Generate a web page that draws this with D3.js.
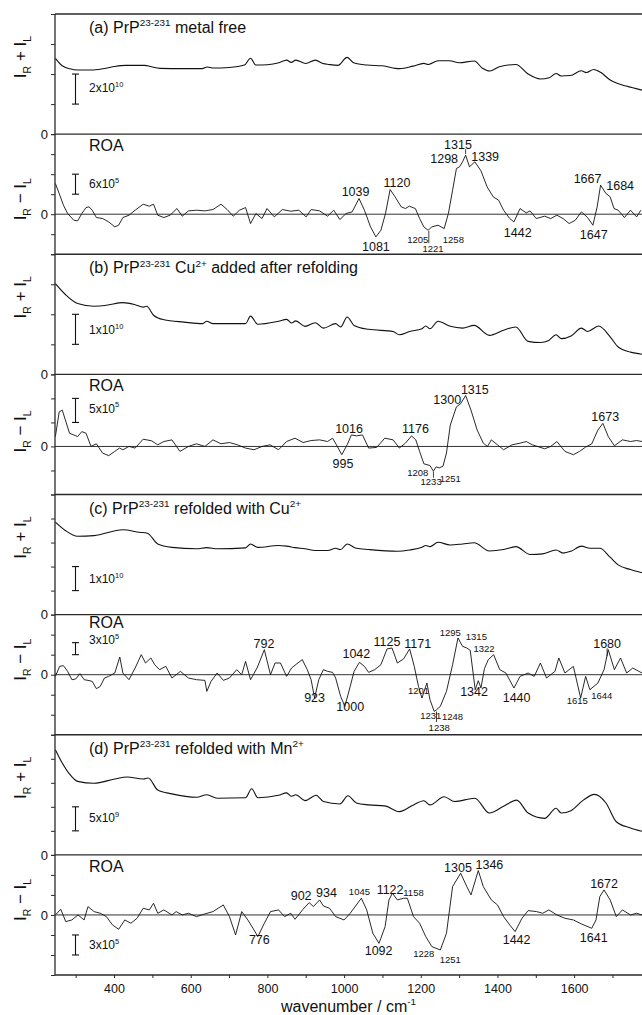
<!DOCTYPE html>
<html>
<head>
<meta charset="utf-8">
<script src="https://cdn.jsdelivr.net/npm/d3@7"></script>
<style>
  body { margin: 0; background: #fff; }
  svg { display: block; font-family: "Liberation Sans", Arial, sans-serif; }
  text { white-space: pre; }
</style>
</head>
<body>
<div id="chart"></div>
<script>
// wavenumber range shown (cm-1) and x ticks
const wnExtent = [246, 1777];
const xTicks = [300, 400, 500, 600, 700, 800, 900, 1000, 1100, 1200, 1300, 1400, 1500, 1600, 1700];
const xTickLabels = [400, 600, 800, 1000, 1200, 1400, 1600];

// Raman spectra, I_R + I_L  [wavenumber, value x1e10]
const ramanA = [[247,5.05],[265,4.55],[285,4.35],[305,4.27],[340,4.27],[370,4.35],[400,4.5],[430,4.58],[480,4.58],[495,4.5],[520,4.38],[580,4.36],[630,4.36],[643,4.47],[660,4.4],[700,4.44],[740,4.6],[756,5.05],[770,4.6],[800,4.62],[830,4.75],[850,4.93],[862,4.78],[874,4.93],[900,4.7],[925,4.93],[945,4.7],[960,4.64],[984,4.58],[1008,5.11],[1025,4.75],[1060,4.6],[1100,4.55],[1145,4.36],[1180,4.53],[1208,4.71],[1220,4.64],[1245,4.89],[1275,4.89],[1300,4.75],[1340,4.87],[1360,4.4],[1380,4.2],[1405,4.49],[1448,4.64],[1480,4.0],[1512,3.67],[1535,3.75],[1553,4.04],[1566,3.87],[1590,3.9],[1619,4.22],[1632,4.1],[1651,4.3],[1670,4.1],[1694,3.6],[1736,3.2],[1777,2.93]];
const ramanB = [[247,3.02],[273,2.66],[305,2.36],[348,2.27],[380,2.3],[423,2.39],[455,2.32],[476,2.24],[485,2.27],[503,1.97],[530,1.82],[583,1.74],[631,1.69],[642,1.77],[658,1.69],[743,1.69],[756,1.94],[775,1.67],[829,1.77],[850,1.83],[863,1.71],[874,1.78],[898,1.6],[925,1.72],[946,1.54],[978,1.69],[991,1.58],[1008,1.91],[1026,1.63],[1064,1.5],[1128,1.43],[1144,1.32],[1171,1.43],[1203,1.52],[1213,1.61],[1224,1.52],[1245,1.77],[1277,1.6],[1309,1.54],[1339,1.63],[1379,1.3],[1416,1.47],[1448,1.58],[1480,1.1],[1512,1.06],[1534,1.13],[1553,1.32],[1566,1.19],[1592,1.28],[1619,1.54],[1635,1.43],[1664,1.61],[1694,1.25],[1715,0.91],[1747,0.74],[1777,0.67]];
const ramanC = [[247,3.85],[273,3.5],[305,3.26],[348,3.29],[423,3.53],[466,3.43],[487,3.39],[514,2.94],[551,2.8],[615,2.74],[642,2.79],[669,2.74],[743,2.78],[756,2.94],[775,2.8],[829,2.875],[850,2.85],[872,2.79],[898,2.74],[925,2.67],[957,2.67],[978,2.76],[991,2.71],[1008,2.94],[1032,2.76],[1064,2.71],[1139,2.64],[1171,2.69],[1203,2.8],[1213,2.875],[1224,2.83],[1245,3.01],[1277,2.9],[1309,2.94],[1339,2.99],[1379,2.65],[1416,2.71],[1448,2.83],[1486,2.5],[1518,2.53],[1553,2.69],[1571,2.56],[1592,2.64],[1619,2.85],[1641,2.76],[1667,2.76],[1694,2.39],[1715,2.07],[1747,1.875],[1777,1.74]];
const ramanD = [[247,2.19],[263,1.94],[284,1.68],[305,1.53],[348,1.49],[402,1.58],[434,1.62],[476,1.58],[489,1.6],[514,1.35],[551,1.27],[615,1.2],[642,1.25],[669,1.18],[743,1.19],[759,1.375],[775,1.19],[829,1.24],[850,1.29],[863,1.22],[874,1.25],[898,1.13],[927,1.24],[946,1.11],[989,1.06],[1010,1.23],[1032,1.08],[1064,1.04],[1106,1.02],[1144,0.9],[1181,1.04],[1208,1.125],[1224,1.04],[1261,1.21],[1288,1.11],[1341,1.18],[1379,0.87],[1416,1.01],[1450,1.14],[1480,0.87],[1523,0.76],[1553,0.97],[1566,0.87],[1592,0.92],[1624,1.14],[1653,1.26],[1683,1.08],[1710,0.69],[1747,0.56],[1777,0.49]];

// ROA spectra, I_R - I_L  [wavenumber, value x1e5]
const roaA = [[247,9.2],[257,6.2],[268,2.7],[279,0.2],[295,-1.8],[305,-2.0],[316,0.2],[327,2.0],[335,2.2],[343,1.2],[354,-1.0],[370,-1.3],[386,-2.3],[402,-3.8],[412,-3.3],[423,-1.0],[439,-0.3],[455,1.2],[476,3.0],[492,2.4],[503,3.0],[514,-0.3],[530,-1.0],[546,-0.3],[564,1.7],[578,-0.6],[594,1.0],[615,1.2],[637,1.0],[658,1.4],[679,3.0],[695,1.4],[711,-0.6],[727,1.2],[743,2.0],[756,-2.8],[770,0.2],[786,-1.3],[799,1.7],[818,-0.8],[839,1.4],[861,0.9],[882,1.2],[901,-0.8],[914,1.4],[936,1.0],[957,-0.6],[973,1.2],[989,-1.6],[1005,0.2],[1021,0.7],[1039,4.7],[1053,1.2],[1069,-3.8],[1083,-6.8],[1096,-4.8],[1108,0.2],[1120,7.4],[1133,5.2],[1149,2.2],[1160,1.7],[1170,2.4],[1186,1.7],[1197,-1.3],[1208,-3.8],[1219,-4.8],[1229,-3.8],[1245,-3.3],[1261,-4.3],[1272,0.2],[1283,7.2],[1293,13.7],[1301,14.2],[1309,15.7],[1317,17.7],[1327,14.2],[1341,15.7],[1357,13.0],[1373,8.2],[1389,5.2],[1403,4.2],[1416,1.2],[1432,-1.3],[1443,-2.3],[1459,1.7],[1475,0.4],[1485,1.0],[1501,-1.3],[1523,-0.6],[1539,-1.3],[1555,-0.3],[1571,-1.3],[1587,-2.8],[1603,-1.8],[1619,0.7],[1635,-1.0],[1649,-3.3],[1660,2.2],[1669,8.7],[1683,6.2],[1694,5.2],[1704,1.7],[1715,1.2],[1731,-1.0],[1747,1.2],[1763,-0.8],[1774,1.2]];
const roaB = [[247,2.06],[257,7.2],[265,7.55],[273,5.49],[284,2.74],[295,2.4],[305,2.06],[316,3.09],[327,2.74],[340,0],[354,0.55],[370,-1.37],[386,-1.92],[402,-1.03],[414,-0.34],[423,-0.69],[439,0],[455,-0.34],[476,1.51],[498,1.17],[514,0.34],[530,1.03],[551,1.37],[572,-1.03],[594,0],[615,0.55],[637,0],[658,1.37],[679,0.55],[701,0.82],[722,0.34],[743,-0.34],[765,-0.69],[786,0],[807,0.34],[829,-0.69],[850,1.03],[872,1.72],[893,0.82],[914,1.23],[936,1.37],[957,1.03],[970,1.72],[980,0.34],[994,-1.72],[1008,0.34],[1019,2.4],[1032,2.2],[1048,2.4],[1064,-0.34],[1085,-0.2],[1106,1.72],[1128,1.37],[1144,-0.34],[1160,0.69],[1176,2.2],[1187,1.37],[1197,-1.03],[1208,-3.6],[1224,-3.98],[1233,-5.15],[1240,-4.25],[1248,-4.46],[1258,-4.1],[1267,-1.37],[1277,4.46],[1293,8.23],[1304,8.9],[1317,10.6],[1331,7.55],[1347,3.43],[1363,0.69],[1374,0],[1384,1.37],[1400,0.34],[1416,-0.69],[1438,0.34],[1459,0.69],[1475,1.03],[1491,0.34],[1523,-0.48],[1539,0],[1555,1.03],[1576,-1.03],[1598,-1.72],[1614,-1.03],[1630,-0.14],[1646,0.55],[1662,3.43],[1675,4.8],[1689,2.06],[1705,0.14],[1726,1.37],[1747,1.03],[1763,1.23],[1777,1.03]];
const roaC = [[247,-0.42],[258,2.08],[268,2.25],[279,0.83],[290,-1.25],[300,-1.08],[311,0.25],[322,-1.25],[332,-1.42],[343,-1.67],[354,-3.5],[364,-2.92],[375,-0.83],[386,-0.42],[402,0.42],[415,4.42],[423,0.42],[439,-1.25],[455,1.67],[471,5.0],[482,2.92],[496,4.17],[506,2.5],[519,1.25],[535,2.08],[551,-0.83],[573,0.83],[594,-0.83],[615,-1.25],[637,-1.42],[642,-4.17],[653,-1.67],[669,0.42],[685,-1.42],[701,-0.83],[720,1.25],[733,0],[743,3.33],[756,-1.25],[773,1.67],[792,6.25],[808,0],[820,2.92],[834,2.92],[850,-0.42],[863,1.67],[877,2.75],[891,3.75],[904,1.25],[914,-1.25],[923,-5.83],[934,-1.25],[946,1.25],[957,0.83],[970,0.58],[978,-0.83],[991,-5.42],[1002,-7.92],[1016,-2.92],[1026,0.83],[1040,3.08],[1053,2.08],[1064,0.58],[1080,1.25],[1096,2.5],[1112,6.42],[1125,6.67],[1139,2.92],[1155,3.92],[1171,6.42],[1183,2.08],[1194,-2.92],[1203,-5.83],[1216,-2.08],[1224,-6.25],[1235,-9.17],[1241,-8.75],[1251,-7.92],[1267,-4.17],[1283,2.5],[1297,9.17],[1309,7.08],[1320,6.67],[1329,6.08],[1342,-3.75],[1350,-1.5],[1357,-3.3],[1366,1.5],[1376,3.75],[1390,5.0],[1406,1.25],[1422,0.42],[1443,-3.33],[1459,-0.42],[1480,0.42],[1496,-0.42],[1512,2.92],[1528,-0.83],[1550,0.83],[1560,4.17],[1576,0.42],[1598,2.08],[1617,-5.83],[1630,-0.42],[1641,-3.75],[1662,-2.08],[1678,1.25],[1689,6.25],[1705,1.25],[1721,4.17],[1737,0.42],[1753,1.67],[1769,0.83],[1777,0.42]];
const roaD = [[247,0],[261,0.85],[274,-1.0],[290,-0.75],[306,0],[322,-0.75],[332,1.25],[348,0.5],[364,0.25],[380,-0.25],[396,-1.5],[412,-2.15],[428,-0.75],[444,-1.25],[460,-0.5],[476,1.0],[492,0.75],[503,1.75],[514,0.25],[530,0.75],[551,0],[562,0.5],[578,0],[594,0.25],[615,-0.25],[637,0.15],[658,0.5],[685,1.5],[701,-0.25],[717,-3.0],[733,0.5],[749,-0.75],[765,-2.25],[775,-3.25],[792,-1.25],[808,0.5],[829,0.75],[845,-0.25],[861,0.25],[872,-0.65],[893,0.85],[909,1.85],[920,1.25],[936,2.25],[946,1.35],[962,1.0],[978,-0.25],[1000,-0.75],[1016,0.25],[1032,1.5],[1045,2.5],[1059,0.75],[1075,-2.75],[1091,-4.25],[1107,-1.75],[1117,2.25],[1126,3.25],[1139,2.25],[1155,2.5],[1165,2.5],[1181,-0.25],[1197,-1.25],[1213,-3.25],[1229,-4.75],[1251,-5.25],[1267,-2.75],[1283,4.25],[1304,6.25],[1320,4.25],[1331,3.0],[1350,6.65],[1363,4.25],[1384,2.25],[1400,1.5],[1416,-0.25],[1432,-1.5],[1446,-2.5],[1464,-0.5],[1480,0.65],[1502,0.5],[1518,0.25],[1534,0.75],[1555,0],[1576,-0.5],[1598,-0.75],[1619,-1.35],[1646,-2.0],[1657,-0.75],[1667,2.75],[1678,3.75],[1694,2.25],[1710,-0.25],[1726,0.75],[1747,0],[1763,0.25],[1777,0]];

// peak labels [wavenumber, value, text, small]
const labelsA = [[1297,21.0,"1315"],[1261,16.7,"1298"],[1368,17.4,"1339"],[1030,6.9,"1039"],[1138,9.5,"1120"],[1083,-9.6,"1081"],[1192,-7.5,"1205",1],[1232,-10.3,"1221",1],[1285,-7.5,"1258",1],[1453,-5.5,"1442"],[1651,-6.0,"1647"],[1635,10.7,"1667"],[1720,8.7,"1684"]];
const labelsB = [[1269,9.7,"1300"],[1341,11.8,"1315"],[1681,6.2,"1673"],[1013,3.8,"1016"],[1186,3.8,"1176"],[997,-3.6,"995"],[1192,-5.5,"1208",1],[1227,-7.4,"1233",1],[1277,-6.7,"1251",1]];
const labelsC = [[791,7.9,"792"],[1032,5.2,"1042"],[1112,8.3,"1125"],[1192,7.9,"1171"],[1277,10.6,"1295",1],[1345,9.6,"1315",1],[1365,6.5,"1322",1],[1686,7.9,"1680"],[923,-5.8,"923"],[1016,-7.9,"1000"],[1194,-3.9,"1201",1],[1339,-4.2,"1342"],[1450,-5.6,"1440"],[1608,-6.4,"1615",1],[1672,-5.25,"1644",1],[1226,-10.25,"1231",1],[1283,-10.4,"1248",1],[1248,-13.1,"1238",1]];
const labelsD = [[1297,7.15,"1305"],[1379,7.5,"1346"],[1678,4.75,"1672"],[888,2.85,"902"],[954,3.4,"934"],[1040,3.5,"1045",1],[1120,3.85,"1122"],[1181,3.35,"1158",1],[779,-3.65,"776"],[1090,-5.35,"1092"],[1208,-5.85,"1228",1],[1277,-6.75,"1251",1],[1450,-3.65,"1442"],[1651,-3.35,"1641"]];

// leader ticks [wavenumber, from value, to value]
const leadersA = [[1317,19.5,18.0],[1221,-5.0,-8.7]];
const leadersB = [[1233,-5.2,-6.5]];
const leadersC = [[1686,6.6,4.6],[1241,-9.2,-11.8]];
const leadersD = [];

const titleA = [["(a) PrP",0],["23-231",1],[" metal free",0]];
const titleB = [["(b) PrP",0],["23-231",1],[" Cu",0],["2+",1],[" added after refolding",0]];
const titleC = [["(c) PrP",0],["23-231",1],[" refolded with Cu",0],["2+",1]];
const titleD = [["(d) PrP",0],["23-231",1],[" refolded with Mn",0],["2+",1]];

const panels = [
	{ kind: "raman", data: ramanA, domain: [0, 8], step: 2, title: titleA, bar: [2, 4], barText: 3.1, barLabel: [["2x10",0],["10",1]] },
	{ kind: "roa", data: roaA, domain: [-12, 24], step: 6, labels: labelsA, leaders: leadersA, bar: [6, 12], barText: 9.3, barLabel: [["6x10",0],["5",1]], tagDy: 17 },
	{ kind: "raman", data: ramanB, domain: [0, 4], step: 1, title: titleB, bar: [1, 2], barText: 1.5, barLabel: [["1x10",0],["10",1]] },
	{ kind: "roa", data: roaB, domain: [-10, 15], step: 5, labels: labelsB, leaders: leadersB, bar: [5, 10], barText: 8, barLabel: [["5x10",0],["5",1]], tagDy: 17 },
	{ kind: "raman", data: ramanC, domain: [0, 5], step: 1, title: titleC, bar: [1, 2], barText: 1.5, barLabel: [["1x10",0],["10",1]] },
	{ kind: "roa", data: roaC, domain: [-15, 15], step: 5, labels: labelsC, leaders: leadersC, bar: [5, 8], barText: 8.7, barLabel: [["3x10",0],["5",1]], tagDy: 13.5 },
	{ kind: "raman", data: ramanD, domain: [0, 2.5], step: 0.5, title: titleD, bar: [0.5, 1], barText: 0.77, barLabel: [["5x10",0],["9",1]] },
	{ kind: "roa", data: roaD, domain: [-9, 9], step: 3, labels: labelsD, leaders: leadersD, bar: [-3, -6], barText: -4.4, barLabel: [["3x10",0],["5",1]], tagDy: 17 }
];

const width = 642, height = 1015;
const margin = { top: 14, left: 55, bottom: 40 };
const plotBottom = height - margin.bottom;
const panelH = (plotBottom - margin.top) / panels.length;
const ink = "#111", frame = "#2a2a2a";

const x = d3.scaleLinear().domain(wnExtent).range([margin.left, width]);

const svg = d3.select("#chart").append("svg")
	.attr("width", width)
	.attr("height", height);

// text with super/subscripts: parts = [[string, 0 | 1 (sup) | -1 (sub)]]
function rich(sel, parts, size) {
	let shift = 0;
	parts.forEach(([str, mode]) => {
		const target = mode === 1 ? -size * 0.42 : mode === -1 ? size * 0.3 : 0;
		sel.append("tspan")
			.attr("dy", target - shift)
			.attr("font-size", mode ? size * 0.62 : size)
			.text(str);
		shift = target;
	});
	return sel;
}

panels.forEach((p, i) => {
	const top = margin.top + i * panelH;
	const bottom = top + panelH;
	const y = d3.scaleLinear().domain(p.domain).range([bottom, top]);
	const g = svg.append("g");

	// left ticks, only 0 labelled
	const tickVals = d3.range(p.domain[0], p.domain[1] + p.step / 2, p.step);
	const axis = g.append("g")
		.attr("transform", `translate(${margin.left},0)`)
		.call(d3.axisLeft(y).tickValues(tickVals).tickSize(4).tickPadding(3)
			.tickFormat(d => Math.abs(d) < 1e-9 ? "0" : ""));
	axis.select(".domain").remove();
	axis.selectAll("line").attr("stroke", frame);
	axis.selectAll("text").attr("font-size", 13).attr("fill", ink)
		.attr("font-family", "'Liberation Sans', Arial, sans-serif");

	// panel separator
	g.append("line")
		.attr("x1", margin.left).attr("x2", width)
		.attr("y1", bottom).attr("y2", bottom)
		.attr("stroke", frame).attr("stroke-width", 1.3);

	if (p.kind === "roa") {
		g.append("line")
			.attr("x1", margin.left).attr("x2", width)
			.attr("y1", y(0)).attr("y2", y(0))
			.attr("stroke", "#333").attr("stroke-width", 1);
	}

	const line = d3.line()
		.x(d => x(d[0]))
		.y(d => y(d[1]))
		.curve(p.kind === "raman" ? d3.curveMonotoneX : d3.curveLinear);

	g.append("path")
		.datum(p.data)
		.attr("fill", "none")
		.attr("stroke", ink)
		.attr("stroke-width", p.kind === "raman" ? 1.1 : 0.9)
		.attr("stroke-linejoin", "round")
		.attr("d", line);

	// y label
	const yLabel = g.append("text")
		.attr("text-anchor", "middle")
		.attr("fill", ink)
		.attr("transform", `translate(26,${p.kind === "raman" ? top + 43 : y(0) - 15}) rotate(-90)`);
	if (p.kind === "raman") rich(yLabel, [["I",0],["R",-1],[" + I",0],["L",-1]], 17);
	else rich(yLabel, [["I",0],["R",-1],[" \u2212 I",0],["L",-1]], 17);

	// title or ROA tag
	if (p.kind === "raman") {
		rich(g.append("text").attr("x", 89).attr("y", top + 19).attr("fill", ink), p.title, 16);
	} else {
		g.append("text").attr("x", 89).attr("y", top + p.tagDy)
			.attr("font-size", 16).attr("fill", ink).text("ROA");
	}

	// intensity scale bar
	const bx = 75.5;
	const bar = g.append("g").attr("stroke", ink).attr("stroke-width", 1.1);
	bar.append("line").attr("x1", bx).attr("x2", bx).attr("y1", y(p.bar[0])).attr("y2", y(p.bar[1]));
	p.bar.forEach(v => {
		bar.append("line").attr("x1", bx - 3.5).attr("x2", bx + 3.5).attr("y1", y(v)).attr("y2", y(v));
	});
	rich(g.append("text").attr("x", 89).attr("y", y(p.barText) + 4.5).attr("fill", ink), p.barLabel, 12);

	// peak labels
	if (p.labels) {
		g.selectAll(".peak")
			.data(p.labels)
			.enter()
			.append("text")
			.attr("class", "peak")
			.attr("x", d => x(d[0]))
			.attr("y", d => y(d[1]))
			.attr("dy", "0.36em")
			.attr("text-anchor", "middle")
			.attr("font-size", d => d[3] ? 9.5 : 12.5)
			.attr("fill", ink)
			.text(d => d[2]);

		g.selectAll(".leader")
			.data(p.leaders)
			.enter()
			.append("line")
			.attr("class", "leader")
			.attr("x1", d => x(d[0])).attr("x2", d => x(d[0]))
			.attr("y1", d => y(d[1])).attr("y2", d => y(d[2]))
			.attr("stroke", ink).attr("stroke-width", 0.8);
	}
});

// top frame and left axis line
svg.append("line")
	.attr("x1", margin.left).attr("x2", width)
	.attr("y1", margin.top).attr("y2", margin.top)
	.attr("stroke", frame).attr("stroke-width", 1.3);
svg.append("line")
	.attr("x1", margin.left).attr("x2", margin.left)
	.attr("y1", margin.top).attr("y2", plotBottom)
	.attr("stroke", frame).attr("stroke-width", 1.3);

// bottom wavenumber axis
const xAxis = svg.append("g")
	.attr("transform", `translate(0,${plotBottom})`)
	.call(d3.axisBottom(x).tickValues(xTicks).tickSize(3).tickPadding(6)
		.tickFormat(d => xTickLabels.includes(d) ? d : ""));
xAxis.select(".domain").remove();
xAxis.selectAll("line").attr("stroke", frame);
xAxis.selectAll("text").attr("font-size", 12.5).attr("fill", ink)
	.attr("font-family", "'Liberation Sans', Arial, sans-serif");

rich(svg.append("text")
	.attr("x", (margin.left + width) / 2)
	.attr("y", 1012)
	.attr("text-anchor", "middle")
	.attr("fill", ink), [["wavenumber / cm",0],["-1",1]], 16);
</script>
</body>
</html>
